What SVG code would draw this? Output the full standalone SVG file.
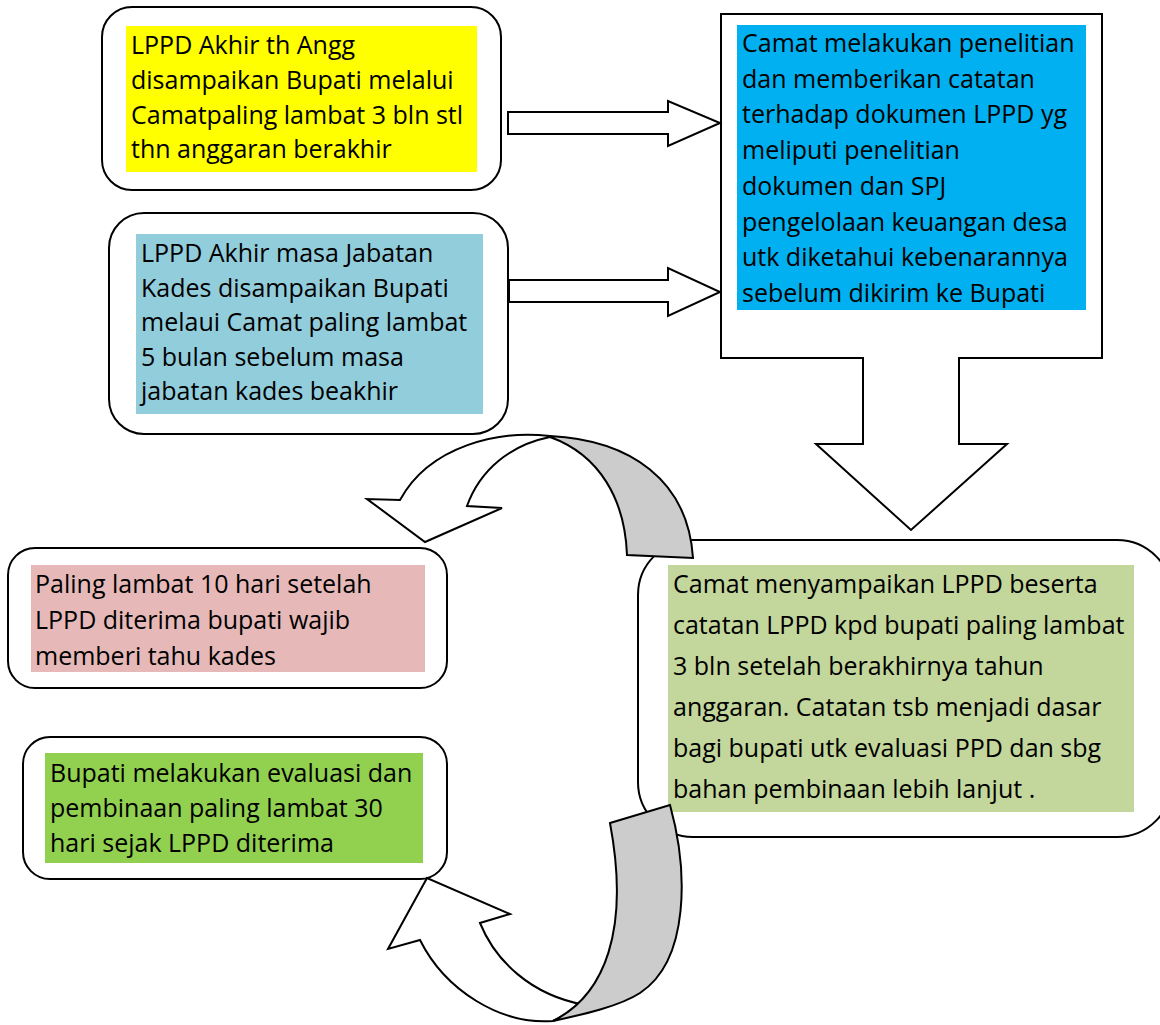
<svg xmlns="http://www.w3.org/2000/svg" width="1160" height="1025" viewBox="0 0 1160 1025">
<style>
.box{fill:#fff;stroke:#000;stroke-width:2}
.t{font-family:"Open Sans","Noto Sans","Liberation Sans",sans-serif;font-size:25px;fill:#000}
.arr{fill:#fff;stroke:#000;stroke-width:2;stroke-linejoin:miter}
.back{fill:#cccccc;stroke:#000;stroke-width:2}
</style>
<rect width="1160" height="1025" fill="#fff"/>
<g id="node1">
<rect class="box" x="102" y="7" width="399" height="183" rx="30"/>
<rect x="126" y="26" width="351" height="146" fill="#ffff00"/>
<text class="t" x="131" y="54">LPPD Akhir th Angg</text>
<text class="t" x="131" y="89">disampaikan Bupati melalui</text>
<text class="t" x="131" y="124">Camatpaling lambat 3 bln stl</text>
<text class="t" x="131" y="158">thn anggaran berakhir</text>
</g>
<g id="node2">
<rect class="box" x="109" y="213" width="399" height="221" rx="35"/>
<rect x="136" y="234" width="347" height="180" fill="#92cddc"/>
<text class="t" x="141" y="262">LPPD Akhir masa Jabatan</text>
<text class="t" x="141" y="296.5">Kades disampaikan Bupati</text>
<text class="t" x="141" y="331">melaui Camat paling lambat</text>
<text class="t" x="141" y="365.5">5 bulan sebelum masa</text>
<text class="t" x="141" y="400">jabatan kades beakhir</text>
</g>
<g id="node3">
<rect class="box" x="721" y="14" width="381" height="344"/>
<rect x="737" y="25" width="349" height="285" fill="#00b0f0"/>
<text class="t" x="742" y="52">Camat melakukan penelitian</text>
<text class="t" x="742" y="87.7">dan memberikan catatan</text>
<text class="t" x="742" y="123.4">terhadap dokumen LPPD yg</text>
<text class="t" x="742" y="159.1">meliputi penelitian</text>
<text class="t" x="742" y="194.8">dokumen dan SPJ</text>
<text class="t" x="742" y="230.5">pengelolaan keuangan desa</text>
<text class="t" x="742" y="266.2">utk diketahui kebenarannya</text>
<text class="t" x="742" y="302">sebelum dikirim ke Bupati</text>
</g>
<g id="node4">
<rect class="box" x="638" y="540" width="534" height="297" rx="55"/>
<rect x="668" y="565" width="466" height="247" fill="#c3d69b"/>
<text class="t" x="673" y="593">Camat menyampaikan LPPD beserta</text>
<text class="t" x="673" y="634">catatan LPPD kpd bupati paling lambat</text>
<text class="t" x="673" y="675">3 bln setelah berakhirnya tahun</text>
<text class="t" x="673" y="716">anggaran. Catatan tsb menjadi dasar</text>
<text class="t" x="673" y="757">bagi bupati utk evaluasi PPD dan sbg</text>
<text class="t" x="673" y="798">bahan pembinaan lebih lanjut .</text>
</g>
<g id="node5">
<rect class="box" x="8" y="548" width="439" height="140" rx="27"/>
<rect x="31" y="565" width="394" height="107" fill="#e6b9b8"/>
<text class="t" x="35" y="593">Paling lambat 10 hari setelah</text>
<text class="t" x="35" y="629">LPPD diterima bupati wajib</text>
<text class="t" x="35" y="665">memberi tahu kades</text>
</g>
<g id="node6">
<rect class="box" x="23" y="737" width="424" height="142" rx="27"/>
<rect x="45" y="753" width="378" height="110" fill="#92d050"/>
<text class="t" x="50" y="782">Bupati melakukan evaluasi dan</text>
<text class="t" x="50" y="817">pembinaan paling lambat 30</text>
<text class="t" x="50" y="852">hari sejak LPPD diterima</text>
</g>
<g id="connectors">
<polygon class="arr" points="508,112 668,112 668,101 720,123 668,146 668,134 508,134"/>
<polygon class="arr" points="509,280 668,280 668,268 720,292 668,316 668,302 509,302"/>
<polygon points="863,355 959,355 959,444 1007,444 911,530 816,444 863,444" fill="#fff"/>
<path class="arr" fill="none" d="M863,357 L863,444 L816,444 L911,530 L1007,444 L959,444 L959,357"/>
<path class="arr" d="M550,436 C500,430 430,445 400,500 L367,499 L425,542 L502,508 L467,506 C480,470 510,445 550,437 Z"/>
<path class="back" d="M550,436 C630,440 688,480 693,558 L627,555 C625,500 600,455 550,437 Z"/>
<path class="arr" d="M553,1021 C500,1025 445,990 420,940 L388,949 L427,878 L510,914 L480,923 C495,960 530,995 585,1005 Z"/>
<path class="back" d="M610,823 L670,805 C688,870 690,960 640,993 C620,1006 585,1014 553,1021 C605,995 630,930 610,823 Z"/>
</g>
</svg>
